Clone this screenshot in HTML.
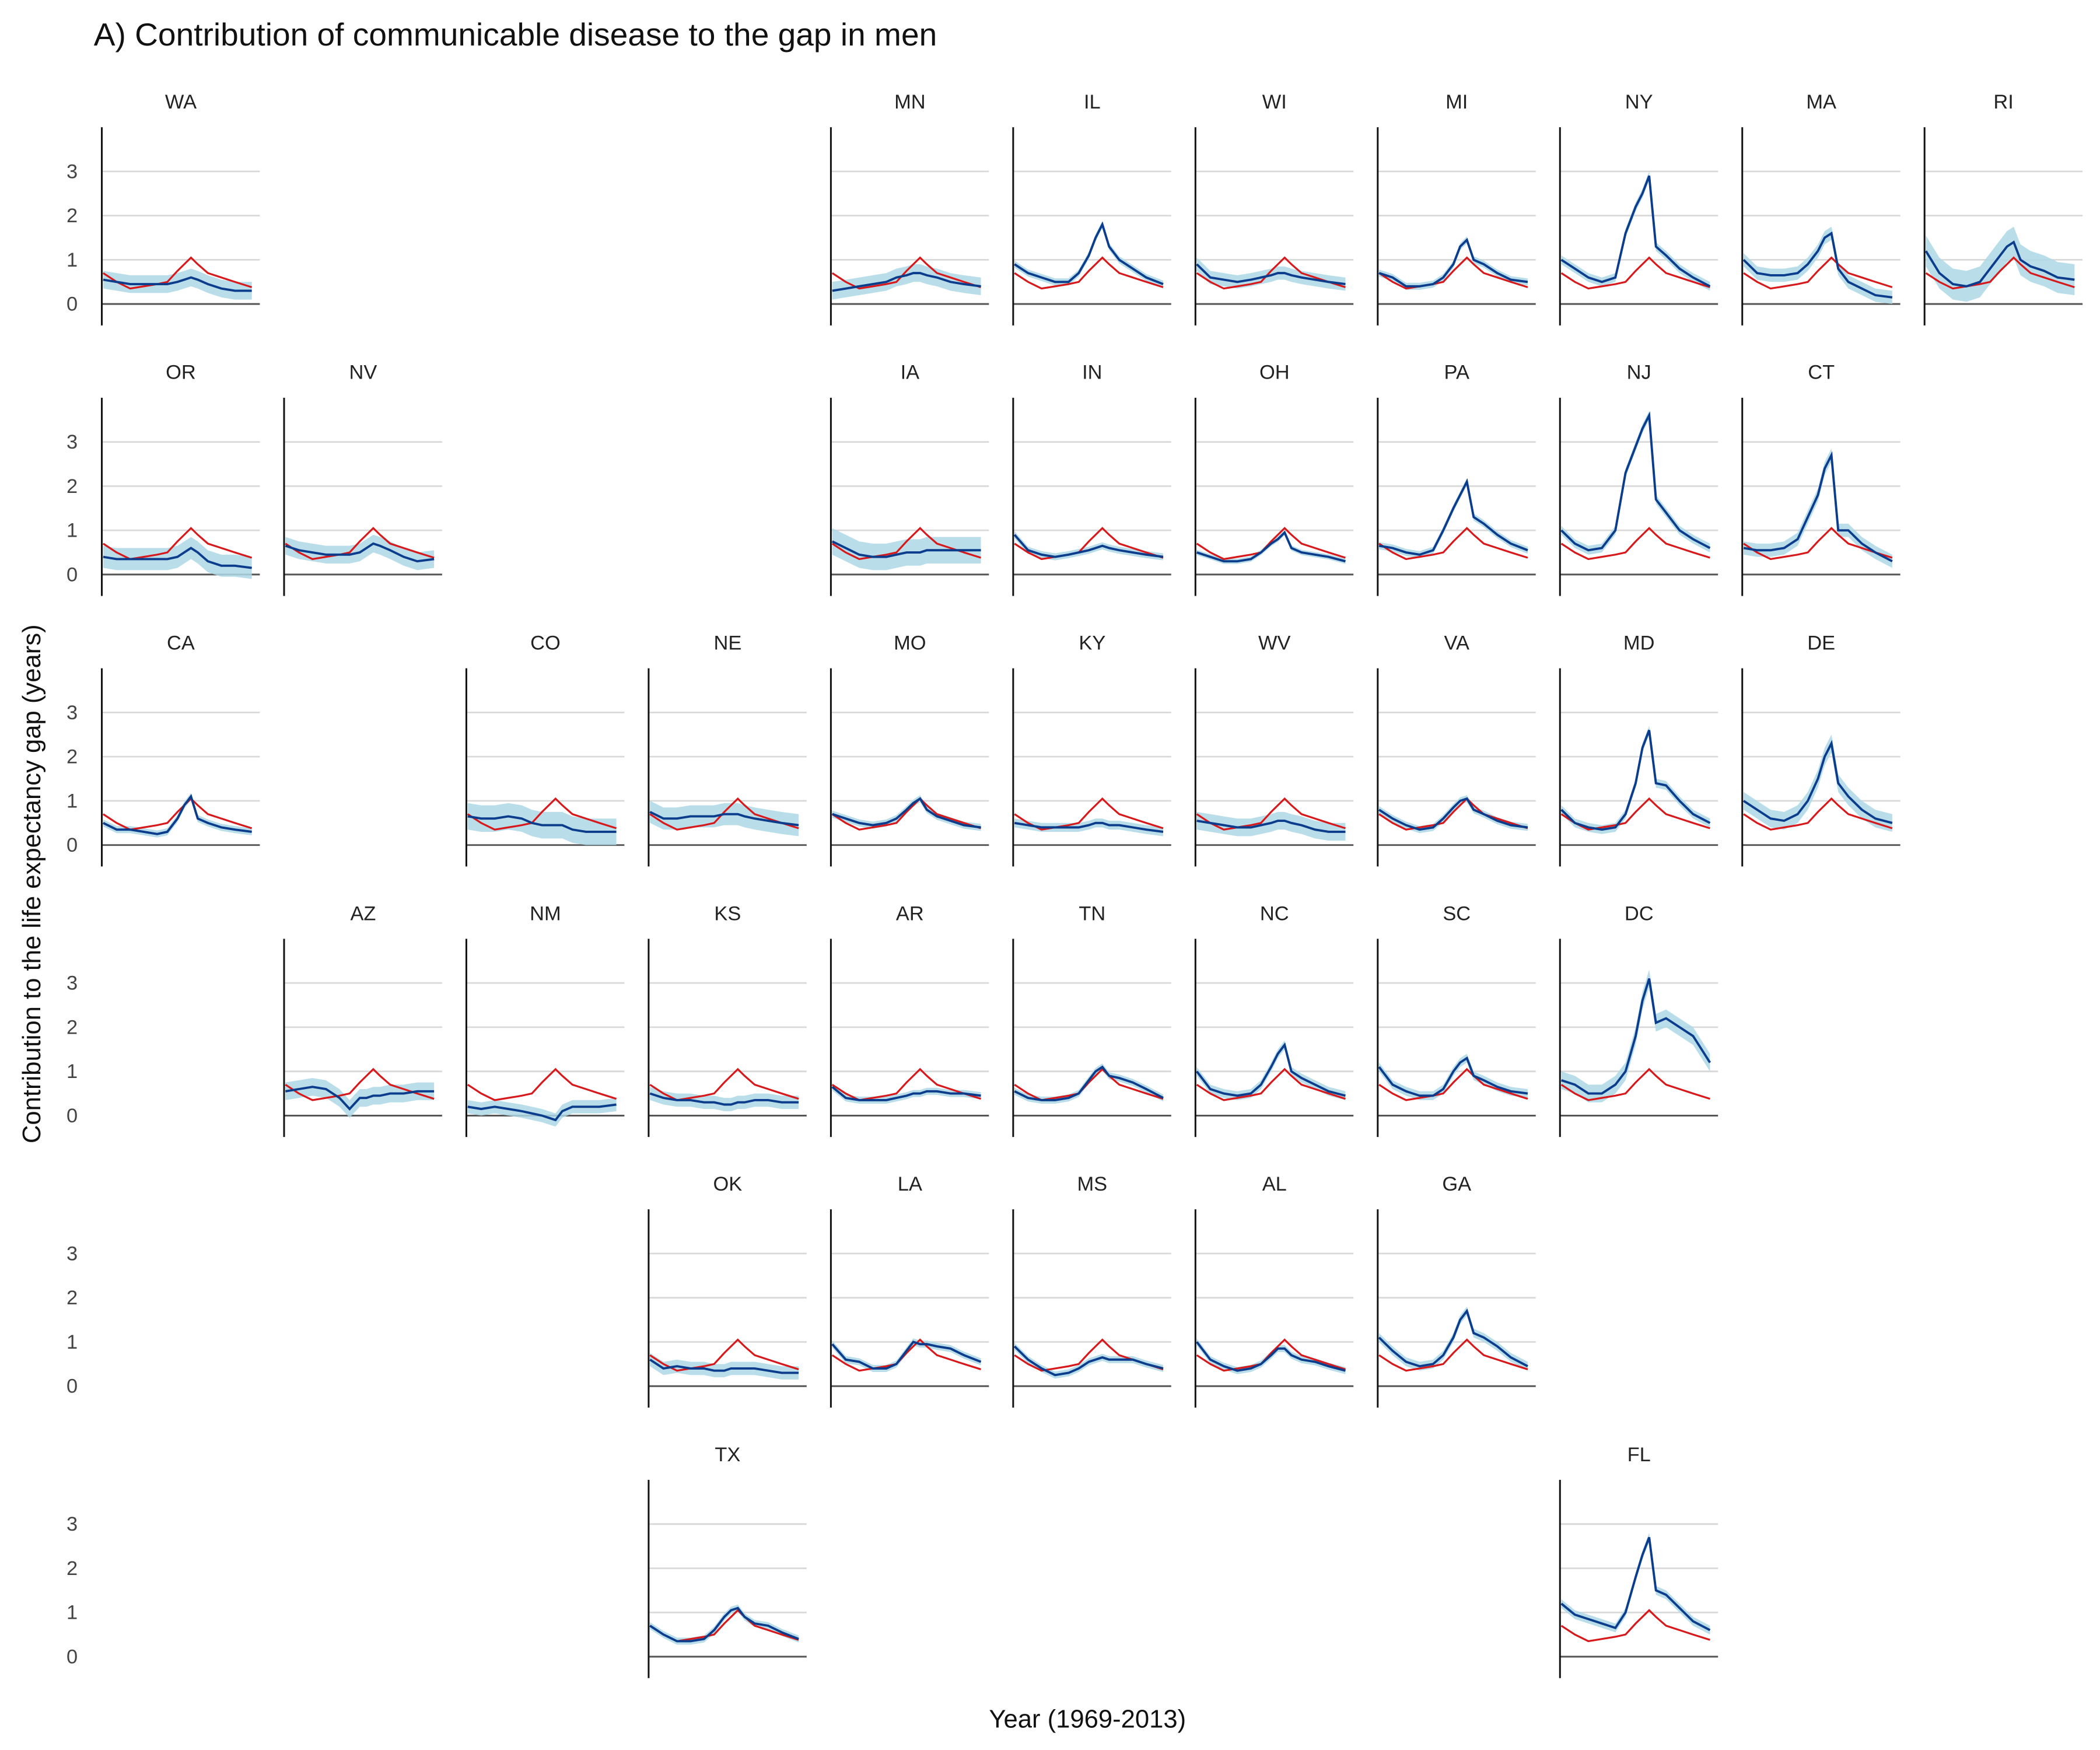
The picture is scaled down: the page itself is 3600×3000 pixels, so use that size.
<!DOCTYPE html>
<html><head><meta charset="utf-8"><style>
html,body{margin:0;padding:0;background:#fff;}
svg{display:block;font-family:"Liberation Sans",Arial,sans-serif;}
</style></head><body>
<svg id="chart" width="3600" height="3000" viewBox="0 0 1568 1306.7" xmlns="http://www.w3.org/2000/svg">
<rect width="1568" height="1306.7" fill="#fff"/>
<text x="70" y="34" font-size="24" fill="#111">A) Contribution of communicable disease to the gap in men</text>
<text transform="translate(30,660) rotate(-90)" text-anchor="middle" font-size="19" fill="#111">Contribution to the life expectancy gap (years)</text>
<text x="812" y="1290" text-anchor="middle" font-size="19" fill="#111">Year (1969-2013)</text>
<g id="panels"></g>
</svg>
<script>
const years = [1969,1973,1977,1981,1985,1988,1991,1993,1995,1997,2000,2004,2008,2013];
const national = [0.7,0.5,0.35,0.4,0.45,0.5,0.75,0.9,1.05,0.9,0.7,0.6,0.5,0.38];
const yTicks = [0,1,2,3];
const states = ["WA","MN","IL","WI","MI","NY","MA","RI","OR","NV","IA","IN","OH","PA","NJ","CT","CA","CO","NE","MO","KY","WV","VA","MD","DE","AZ","NM","KS","AR","TN","NC","SC","DC","OK","LA","MS","AL","GA","TX","FL"];
const gridCol = [0,4,5,6,7,8,9,10,0,1,4,5,6,7,8,9,0,2,3,4,5,6,7,8,9,1,2,3,4,5,6,7,8,3,4,5,6,7,3,8];
const gridRow = [0,0,0,0,0,0,0,0,1,1,1,1,1,1,1,1,2,2,2,2,2,2,2,2,2,3,3,3,3,3,3,3,3,4,4,4,4,4,5,5];
const stateValues = {
WA:[0.55,0.5,0.45,0.45,0.45,0.45,0.5,0.55,0.6,0.55,0.45,0.35,0.3,0.3],
MN:[0.3,0.35,0.4,0.45,0.5,0.6,0.65,0.7,0.7,0.65,0.6,0.5,0.45,0.4],
IL:[0.9,0.7,0.6,0.5,0.5,0.7,1.1,1.5,1.8,1.3,1.0,0.8,0.6,0.45],
WI:[0.9,0.6,0.55,0.5,0.55,0.6,0.65,0.7,0.7,0.65,0.6,0.55,0.5,0.45],
MI:[0.7,0.6,0.4,0.4,0.45,0.6,0.9,1.3,1.45,1.0,0.9,0.7,0.55,0.5],
NY:[1.0,0.8,0.6,0.5,0.6,1.6,2.2,2.5,2.9,1.3,1.1,0.8,0.6,0.4],
MA:[1.0,0.7,0.65,0.65,0.7,0.9,1.2,1.5,1.6,0.8,0.5,0.35,0.2,0.15],
RI:[1.2,0.7,0.45,0.4,0.5,0.8,1.1,1.3,1.4,1.0,0.85,0.75,0.6,0.55],
OR:[0.4,0.35,0.35,0.35,0.35,0.35,0.4,0.5,0.6,0.5,0.3,0.2,0.2,0.15],
NV:[0.65,0.55,0.5,0.45,0.45,0.45,0.5,0.6,0.7,0.65,0.55,0.4,0.3,0.35],
IA:[0.75,0.6,0.45,0.4,0.4,0.45,0.5,0.5,0.5,0.55,0.55,0.55,0.55,0.55],
IN:[0.9,0.55,0.45,0.4,0.45,0.5,0.55,0.6,0.65,0.6,0.55,0.5,0.45,0.4],
OH:[0.5,0.4,0.3,0.3,0.35,0.5,0.7,0.8,0.95,0.6,0.5,0.45,0.4,0.3],
PA:[0.65,0.6,0.5,0.45,0.55,1.0,1.5,1.8,2.1,1.3,1.15,0.9,0.7,0.55],
NJ:[1.0,0.7,0.55,0.6,1.0,2.3,2.9,3.3,3.6,1.7,1.4,1.0,0.8,0.6],
CT:[0.6,0.55,0.55,0.6,0.8,1.3,1.8,2.4,2.7,1.0,1.0,0.7,0.5,0.3],
CA:[0.5,0.35,0.35,0.3,0.25,0.3,0.6,0.9,1.1,0.6,0.5,0.4,0.35,0.3],
CO:[0.65,0.6,0.6,0.65,0.6,0.5,0.45,0.45,0.45,0.45,0.35,0.3,0.3,0.3],
NE:[0.75,0.6,0.6,0.65,0.65,0.65,0.7,0.7,0.7,0.65,0.6,0.55,0.5,0.45],
MO:[0.7,0.6,0.5,0.45,0.5,0.6,0.8,0.95,1.05,0.8,0.65,0.55,0.45,0.4],
KY:[0.5,0.45,0.4,0.4,0.4,0.4,0.45,0.5,0.5,0.45,0.45,0.4,0.35,0.3],
WV:[0.55,0.5,0.45,0.4,0.4,0.45,0.5,0.55,0.55,0.5,0.45,0.35,0.3,0.3],
VA:[0.8,0.6,0.45,0.35,0.4,0.6,0.85,1.0,1.05,0.8,0.7,0.55,0.45,0.4],
MD:[0.8,0.5,0.4,0.35,0.4,0.7,1.4,2.2,2.6,1.4,1.35,1.0,0.7,0.5],
DE:[1.0,0.8,0.6,0.55,0.7,1.0,1.5,2.0,2.3,1.4,1.1,0.8,0.6,0.5],
AZ:[0.55,0.6,0.65,0.6,0.4,0.15,0.4,0.4,0.45,0.45,0.5,0.5,0.55,0.55],
NM:[0.2,0.15,0.2,0.15,0.1,0.05,0.0,-0.05,-0.1,0.1,0.2,0.2,0.2,0.25],
KS:[0.5,0.4,0.35,0.35,0.3,0.3,0.25,0.25,0.3,0.3,0.35,0.35,0.3,0.3],
AR:[0.65,0.4,0.35,0.35,0.35,0.4,0.45,0.5,0.5,0.55,0.55,0.5,0.5,0.45],
TN:[0.55,0.4,0.35,0.35,0.4,0.5,0.8,1.0,1.1,0.9,0.85,0.75,0.6,0.4],
NC:[1.0,0.6,0.5,0.45,0.5,0.7,1.1,1.4,1.6,1.0,0.85,0.7,0.55,0.45],
SC:[1.1,0.7,0.55,0.45,0.45,0.6,1.0,1.2,1.3,0.9,0.8,0.65,0.55,0.5],
DC:[0.8,0.7,0.5,0.5,0.7,1.0,1.8,2.6,3.1,2.1,2.2,2.0,1.8,1.2],
OK:[0.6,0.4,0.45,0.4,0.4,0.35,0.35,0.4,0.4,0.4,0.4,0.35,0.3,0.3],
LA:[0.95,0.6,0.55,0.4,0.4,0.5,0.8,1.0,0.95,0.95,0.9,0.85,0.7,0.55],
MS:[0.9,0.6,0.4,0.25,0.3,0.4,0.55,0.6,0.65,0.6,0.6,0.6,0.5,0.4],
AL:[1.0,0.6,0.45,0.35,0.4,0.5,0.7,0.85,0.85,0.7,0.6,0.55,0.45,0.35],
GA:[1.1,0.8,0.55,0.45,0.5,0.7,1.1,1.5,1.7,1.2,1.1,0.9,0.65,0.45],
TX:[0.7,0.5,0.35,0.35,0.4,0.6,0.9,1.05,1.1,0.9,0.75,0.7,0.55,0.4],
FL:[1.2,0.95,0.85,0.75,0.65,1.0,1.8,2.3,2.7,1.5,1.4,1.1,0.8,0.6]
};
const bandWidth = {WA:0.2,MN:0.2,IL:0.08,WI:0.15,MI:0.08,NY:0.1,MA:0.15,RI:0.35,OR:0.25,NV:0.2,IA:0.3,IN:0.08,OH:0.06,PA:0.08,NJ:0.1,CT:0.15,CA:0.08,CO:0.3,NE:0.25,MO:0.08,KY:0.1,WV:0.2,VA:0.08,MD:0.1,DE:0.2,AZ:0.2,NM:0.15,KS:0.15,AR:0.08,TN:0.08,NC:0.1,SC:0.1,DC:0.2,OK:0.15,LA:0.08,MS:0.08,AL:0.08,GA:0.1,TX:0.08,FL:0.1};

const NS="http://www.w3.org/2000/svg";
const root=document.getElementById('panels');
function mk(tag,attrs,parent){const e=document.createElementNS(NS,tag);for(const k in attrs)e.setAttribute(k,attrs[k]);parent.appendChild(e);return e;}
function panelLeft(c){return 76+136.1*c;}
function rowZero(r){return 227+202*r;}
function xScale(c,yr){return panelLeft(c)+1+(yr-1969)/44*111;}
function yScale(r,v){return rowZero(r)-v*33;}

// row tick labels
for(let r=0;r<6;r++){
  for(const t of yTicks){
    const tx=mk('text',{x:58,y:yScale(r,t)+5,'text-anchor':'end','font-size':15,fill:'#444'},root);
    
    
    tx.textContent=t;
  }
}

states.forEach((st,i)=>{
  const c=gridCol[i], r=gridRow[i];
  const L=panelLeft(c);
  const g=mk('g',{},root);
  
  
  const title=mk('text',{x:L+59,y:81+202*r,'text-anchor':'middle','font-size':15,fill:'#222'},g);
  
  
  title.textContent=st;
  for(const t of yTicks.slice(1)){
    const gl=mk('line',{x1:L,x2:L+118,y1:yScale(r,t),y2:yScale(r,t),stroke:'#d9d9d9','stroke-width':1.2},g);
    
    
  }
  const zl=mk('line',{x1:L,x2:L+118,y1:rowZero(r),y2:rowZero(r),stroke:'#555','stroke-width':1.3},g);
  
  
  const va=mk('line',{x1:L,x2:L,y1:95+202*r,y2:243+202*r,stroke:'#111','stroke-width':1.3},g);
  
  
  const vals=stateValues[st], bw=bandWidth[st];
  let up=years.map((y,k)=>xScale(c,y)+','+yScale(r,vals[k]+bw));
  let dn=years.map((y,k)=>xScale(c,y)+','+yScale(r,vals[k]-bw)).reverse();
  const band=mk('polygon',{points:up.concat(dn).join(' '),fill:'#add8e6',opacity:0.85},g);
  
  
  const red=mk('polyline',{points:years.map((y,k)=>xScale(c,y)+','+yScale(r,national[k])).join(' '),fill:'none',stroke:'#d7191c','stroke-width':1.4},g);
  
  
  const blue=mk('polyline',{points:years.map((y,k)=>xScale(c,y)+','+yScale(r,vals[k])).join(' '),fill:'none',stroke:'#0b3d8c','stroke-width':1.7},g);
  
  
});
</script>
</body></html>
